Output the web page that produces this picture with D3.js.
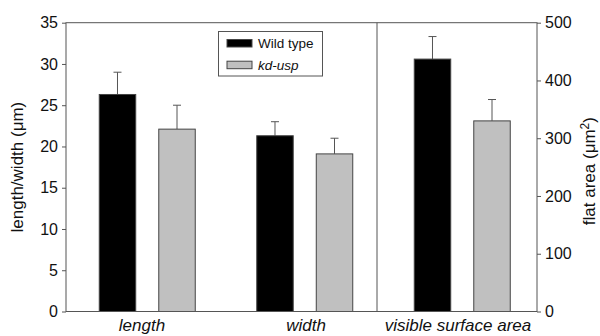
<!DOCTYPE html>
<html>
<head>
<meta charset="utf-8">
<script src="https://cdn.jsdelivr.net/npm/d3@7"></script>
<style>
  body { margin: 0; background: #fff; }
  svg { font-family: Arial, "Liberation Sans", sans-serif; }
</style>
</head>
<body>
<div id="chart"></div>
<script>
// data
const categories = ["length", "width", "visible surface area"];
const seriesNames = ["Wild type", "kd-usp"];
const wildType = [26.3, 21.3, 437];
const wildTypeErr = [2.7, 1.7, 39];
const kdUsp = [22.1, 19.1, 330];
const kdUspErr = [2.9, 1.9, 37];
const leftTicks = [0, 5, 10, 15, 20, 25, 30, 35];
const rightTicks = [0, 100, 200, 300, 400, 500];

const width = 600, height = 336;
const plotLeft = 66, plotRight = 537, plotTop = 22.7, plotBottom = 311.5, divider = 377;

const svg = d3.select("#chart").append("svg")
  .attr("width", width)
  .attr("height", height);

const x = d3.scaleBand().domain(categories).range([68.5, 541]);
const xInner = d3.scaleBand().domain(seriesNames).range([-48, 48]).paddingInner(0.387);
const yLeft = d3.scaleLinear().domain([0, 35]).range([plotBottom, plotTop]);
const yRight = d3.scaleLinear().domain([0, 500]).range([plotBottom, plotTop]);

// which axis each category uses
const yFor = i => i < 2 ? yLeft : yRight;

const colors = { "Wild type": "#000", "kd-usp": "#c0c0c0" };

const rows = [];
categories.forEach((c, i) => {
  rows.push({ cat: c, i: i, s: "Wild type", v: wildType[i], e: wildTypeErr[i] });
  rows.push({ cat: c, i: i, s: "kd-usp", v: kdUsp[i], e: kdUspErr[i] });
});

// error bars (behind bars)
const err = svg.append("g").attr("stroke", "#555").attr("stroke-width", 1);
rows.forEach(d => {
  const cx = x(d.cat) + x.bandwidth() / 2 + xInner(d.s) + xInner.bandwidth() / 2;
  const y = yFor(d.i);
  err.append("line")
    .attr("x1", cx).attr("x2", cx)
    .attr("y1", y(d.v)).attr("y2", y(d.v + d.e));
  err.append("line")
    .attr("x1", cx - 4).attr("x2", cx + 4)
    .attr("y1", y(d.v + d.e)).attr("y2", y(d.v + d.e));
});

// bars
svg.append("g").selectAll("rect")
  .data(rows)
  .join("rect")
  .attr("x", d => x(d.cat) + x.bandwidth() / 2 + xInner(d.s))
  .attr("width", xInner.bandwidth())
  .attr("y", d => yFor(d.i)(d.v))
  .attr("height", d => plotBottom - yFor(d.i)(d.v))
  .attr("fill", d => colors[d.s])
  .attr("stroke", "#444")
  .attr("stroke-width", 1);

// frame and divider
const frame = svg.append("g").attr("stroke", "#555").attr("fill", "none");
frame.append("rect")
  .attr("x", plotLeft).attr("y", plotTop)
  .attr("width", plotRight - plotLeft).attr("height", plotBottom - plotTop);
frame.append("line")
  .attr("x1", divider).attr("x2", divider)
  .attr("y1", plotTop).attr("y2", plotBottom);

// axes
const axLeft = svg.append("g")
  .attr("transform", `translate(${plotLeft},0)`)
  .call(d3.axisLeft(yLeft).tickValues(leftTicks).tickSize(4).tickPadding(4));
const axRight = svg.append("g")
  .attr("transform", `translate(${plotRight},0)`)
  .call(d3.axisRight(yRight).tickValues(rightTicks).tickSize(4).tickPadding(4));
[axLeft, axRight].forEach(a => {
  a.select(".domain").remove();
  a.selectAll("line").attr("stroke", "#555");
  a.selectAll("text").attr("font-size", 16).attr("fill", "#111")
    .attr("font-family", "Arial, 'Liberation Sans', sans-serif");
});

// category labels
const labelX = [142, 306, 458];
svg.append("g").selectAll("text")
  .data(categories)
  .join("text")
  .attr("x", (d, i) => labelX[i])
  .attr("y", 331)
  .attr("text-anchor", "middle")
  .attr("font-size", 17)
  .attr("font-style", "italic")
  .attr("fill", "#111")
  .text(d => d);

// axis titles
svg.append("text")
  .attr("transform", `translate(23,${(plotTop + plotBottom) / 2}) rotate(-90)`)
  .attr("text-anchor", "middle")
  .attr("font-size", 17)
  .attr("fill", "#111")
  .text("length/width (\u03bcm)");

const rt = svg.append("text")
  .attr("transform", `translate(595,${(plotTop + plotBottom) / 2 + 4}) rotate(-90)`)
  .attr("text-anchor", "middle")
  .attr("font-size", 17)
  .attr("fill", "#111");
rt.append("tspan").text("flat area (\u03bcm");
rt.append("tspan").attr("dy", -6).attr("font-size", 12).text("2");
rt.append("tspan").attr("dy", 6).text(")");

// legend
const legend = svg.append("g");
legend.append("rect")
  .attr("x", 218.5).attr("y", 31.5)
  .attr("width", 104).attr("height", 44.5)
  .attr("fill", "#fff").attr("stroke", "#555");
seriesNames.forEach((s, i) => {
  const yy = 39.5 + i * 21.7;
  legend.append("rect")
    .attr("x", 227).attr("y", yy)
    .attr("width", 25).attr("height", 7.5)
    .attr("fill", colors[s]).attr("stroke", "#444");
  legend.append("text")
    .attr("x", 258).attr("y", yy + 8.5)
    .attr("font-size", 13.5)
    .attr("font-style", i === 1 ? "italic" : "normal")
    .attr("fill", "#111")
    .text(s);
});
</script>
</body>
</html>
